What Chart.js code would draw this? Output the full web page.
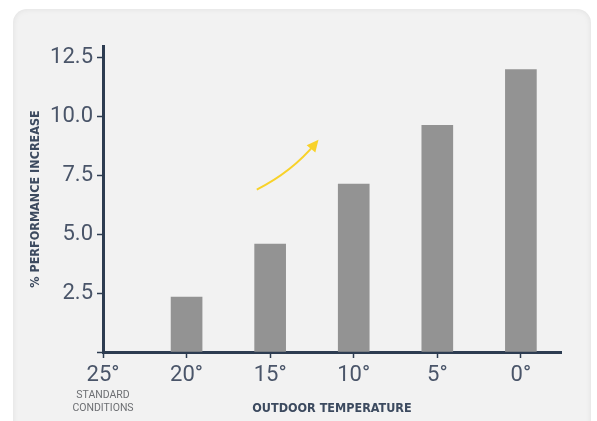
<!DOCTYPE html>
<html>
<head>
<meta charset="utf-8">
<script src="https://cdn.jsdelivr.net/npm/chart.js@4.4.0/dist/chart.umd.min.js"></script>
<style>
    html, body { margin: 0; padding: 0; background: #fff; }
    .panel {
        position: absolute; left: 13px; top: 9px; width: 578px; height: 430px;
        background: #f2f2f2; border-radius: 14px;
        box-shadow: 0 0 6px rgba(0, 0, 0, 0.08) inset;
    }
    .wrap { position: absolute; left: 0; top: 0; width: 597px; height: 421px; }
</style>
</head>
<body>
<div class="panel"></div>
<div class="wrap"><canvas id="perf-chart" width="597" height="421"></canvas></div>
<script>
// Chart data
const temps = [25, 20, 15, 10, 5, 0];
const gains = [null, 2.33, 4.58, 7.13, 9.63, 12.0];
const yTicks = [0, 2.5, 5, 7.5, 10, 12.5];

const axisColor = '#2d3c51';
const labelColor = '#4a5569';
const light = 'Roboto, "DejaVu Sans Condensed", sans-serif';
const narrow = '"DejaVu Sans Condensed", Roboto, sans-serif';

// Extra text under 25° and the yellow arrow
const extrasPlugin = {
    id: 'extras',
    afterDraw: (chart) => {
        const ctx = chart.ctx;
        const x = chart.scales.x;
        const y = chart.scales.y;
        ctx.save();

        ctx.fillStyle = '#6d6f73';
        ctx.font = '10.5px ' + light;
        ctx.textAlign = 'center';
        ctx.textBaseline = 'middle';
        const cx = x.getPixelForValue(temps[0]);
        ctx.fillText('STANDARD', cx, 395);
        ctx.fillText('CONDITIONS', cx, 408);

        // arrow
        const x0 = x.getPixelForValue(15.8), y0 = y.getPixelForValue(6.9);
        const x1 = x.getPixelForValue(12.3), y1 = y.getPixelForValue(8.85);
        const qx = x.getPixelForValue(13.7), qy = y.getPixelForValue(7.65);
        ctx.strokeStyle = '#f8d22a';
        ctx.fillStyle = '#f8d22a';
        ctx.lineWidth = 2;
        ctx.beginPath();
        ctx.moveTo(x0, y0);
        ctx.quadraticCurveTo(qx, qy, x1, y1);
        ctx.stroke();

        const ang = Math.atan2(y1 - qy, x1 - qx);
        const tipX = x1 + Math.cos(ang) * 5, tipY = y1 + Math.sin(ang) * 5;
        ctx.beginPath();
        ctx.moveTo(tipX, tipY);
        ctx.lineTo(tipX - Math.cos(ang - 0.45) * 13, tipY - Math.sin(ang - 0.45) * 13);
        ctx.lineTo(tipX - Math.cos(ang + 0.45) * 13, tipY - Math.sin(ang + 0.45) * 13);
        ctx.closePath();
        ctx.fill();
        ctx.restore();
    }
};

const ctx = document.getElementById('perf-chart').getContext('2d');
new Chart(ctx, {
    type: 'bar',
    data: {
        datasets: [{
            data: temps.map((t, i) => ({ x: t, y: gains[i] })),
            backgroundColor: '#939393',
            barThickness: 31,
        }],
    },
    options: {
        responsive: false,
        animation: false,
        layout: { padding: { top: 46, right: 36, left: 0, bottom: 0 } },
        plugins: { legend: { display: false }, tooltip: { enabled: false } },
        scales: {
            x: {
                type: 'linear',
                reverse: true,
                offset: false,
                min: -2.4,
                max: 25,
                afterBuildTicks: (scale) => { scale.ticks = temps.map(v => ({ value: v })); },
                afterFit: (scale) => { scale.height = 421 - 352; },
                border: { color: axisColor, width: 3 },
                grid: { offset: false, drawOnChartArea: false, color: axisColor, tickLength: 6, tickWidth: 1.5 },
                ticks: {
                    color: labelColor,
                    font: { family: light, size: 22 },
                    padding: 4,
                    maxRotation: 0,
                    callback: (v) => v + '°',
                },
                title: {
                    display: true,
                    text: 'OUTDOOR TEMPERATURE',
                    color: '#3c4a5f',
                    font: { family: narrow, size: 12.5, weight: 'bold' },
                    padding: { top: 15, bottom: 5 },
                },
            },
            y: {
                min: 0,
                max: 13,
                afterBuildTicks: (scale) => { scale.ticks = yTicks.map(v => ({ value: v })); },
                afterFit: (scale) => { scale.width = 103; },
                border: { color: axisColor, width: 3 },
                grid: { drawOnChartArea: false, color: axisColor, tickLength: 6, tickWidth: 1.5 },
                ticks: {
                    color: labelColor,
                    font: { family: light, size: 22 },
                    padding: 4,
                    callback: (v) => v === 0 ? '' : v.toFixed(1),
                },
                title: {
                    display: true,
                    text: '% PERFORMANCE INCREASE',
                    color: '#3c4a5f',
                    font: { family: narrow, size: 12.5, weight: 'bold' },
                    padding: { top: 28, bottom: 0 },
                },
            },
        },
    },
    plugins: [extrasPlugin],
});
</script>
</body>
</html>
